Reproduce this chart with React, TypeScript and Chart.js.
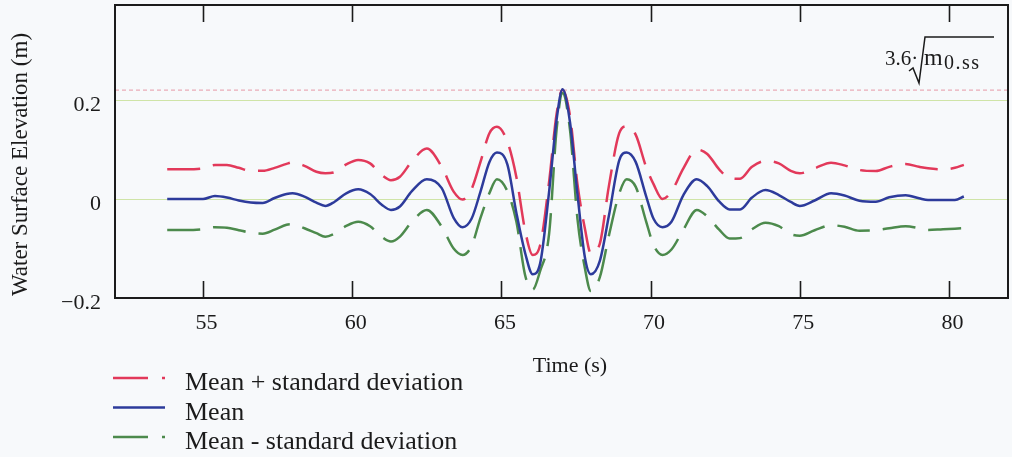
import { useEffect, useRef } from "react";
import { Chart, registerables } from "chart.js";

Chart.register(...registerables);

// Sample times (s)
const time = [
  53.8, 54.4, 55.0, 55.4, 55.8, 56.2, 56.6, 57.0, 57.4, 57.8, 58.0, 58.4, 58.8, 59.1, 59.4, 59.8,
  60.2, 60.6, 61.0, 61.3, 61.6, 62.0, 62.5, 63.0, 63.4, 63.7, 64.0, 64.3, 64.6, 64.85, 65.2, 65.5,
  65.8, 66.05, 66.3, 66.6, 66.85, 67.05, 67.3, 67.55, 67.8, 68.0, 68.3, 68.6, 68.95, 69.2, 69.5,
  69.85, 70.1, 70.4, 70.7, 71.1, 71.55, 71.9, 72.3, 72.65, 73.0, 73.4, 73.85, 74.3, 74.7, 75.0,
  75.5, 76.05, 76.5, 77.0, 77.55, 78.0, 78.55, 79.0, 79.3, 79.8, 80.2, 80.5,
];

// Mean + standard deviation (m)
const upperElev = [
  0.06, 0.06, 0.062, 0.0687, 0.0687, 0.063, 0.057, 0.057, 0.063, 0.071, 0.074, 0.067, 0.055, 0.052, 0.054, 0.07,
  0.079, 0.072, 0.048, 0.038, 0.045, 0.076, 0.102, 0.065, 0.015, -0.001, 0.02, 0.075, 0.133, 0.146, 0.116, 0.045,
  -0.065, -0.113, -0.093, 0.035, 0.172, 0.221, 0.168, 0.03, -0.06, -0.11, -0.09, 0.025, 0.133, 0.147, 0.13,
  0.065, 0.03, 0.0, 0.015, 0.062, 0.1, 0.091, 0.06, 0.042, 0.041, 0.065, 0.077, 0.072, 0.057, 0.052,
  0.062, 0.0735, 0.068, 0.0586, 0.0566, 0.065, 0.0707, 0.065, 0.062, 0.06, 0.063, 0.069,
];

// Mean (m)
const meanElev = [
  0.0, 0.0, 0.0, 0.006, 0.003, -0.003, -0.007, -0.008, 0.002, 0.01, 0.0115, 0.005, -0.0075, -0.014, -0.006, 0.0115,
  0.0195, 0.01, -0.012, -0.022, -0.015, 0.016, 0.04, 0.022, -0.038, -0.057, -0.04, 0.015, 0.075, 0.094, 0.07, -0.027,
  -0.11, -0.152, -0.13, 0.015, 0.16, 0.222, 0.155, 0.01, -0.118, -0.152, -0.125, -0.035, 0.078, 0.094, 0.075,
  0.006, -0.04, -0.057, -0.046, 0.008, 0.04, 0.026, -0.005, -0.021, -0.021, 0.003, 0.018, 0.008, -0.006, -0.014,
  -0.003, 0.0115, 0.007, -0.0035, -0.0055, 0.0035, 0.0075, 0.0015, -0.002, -0.002, -0.002, 0.005,
];

// Mean - standard deviation (m)
const lowerElev = [
  -0.0626, -0.0626, -0.061, -0.057, -0.058, -0.063, -0.068, -0.07, -0.062, -0.052, -0.051, -0.059, -0.069, -0.076, -0.07, -0.0545,
  -0.046, -0.055, -0.077, -0.086, -0.076, -0.046, -0.022, -0.056, -0.1, -0.113, -0.095, -0.038, 0.012, 0.04, 0.016, -0.045,
  -0.155, -0.183, -0.145, -0.07, 0.14, 0.214, 0.14, -0.04, -0.14, -0.186, -0.158, -0.075, 0.011, 0.04, 0.025,
  -0.045, -0.093, -0.113, -0.102, -0.062, -0.022, -0.035, -0.062, -0.08, -0.079, -0.061, -0.048, -0.055, -0.071, -0.074,
  -0.063, -0.053, -0.056, -0.064, -0.063, -0.059, -0.055, -0.059, -0.0626, -0.061, -0.06, -0.059,
];

const seriesLabels = ["Mean + standard deviation", "Mean", "Mean - standard deviation"];
const xTickValues = [55, 60, 65, 70, 75, 80];
const yTickValues = [-0.2, 0, 0.2];
const xRange = [52.05, 81.98];
const yRange = [-0.2, 0.392];
const markerLevel = 0.22; // 3.6·sqrt(m0.ss)
const xTitle = "Time (s)";
const yTitle = "Water Surface Elevation (m)";

const SERIF = '"Liberation Serif", "Times New Roman", serif';
const RED = "#e2395a";
const BLUE = "#2d3b9b";
const GREEN = "#4c8a4c";
const INK = "#1b1b1b";
const DASH = [33, 13];

const decorations = {
  id: "decorations",
  beforeDatasetsDraw(chart: any) {
    const { ctx, chartArea, scales } = chart;
    const y = scales.y.getPixelForValue(markerLevel);
    ctx.save();
    ctx.strokeStyle = "rgba(222, 96, 118, 0.5)";
    ctx.lineWidth = 1.2;
    ctx.setLineDash([4, 3]);
    ctx.beginPath();
    ctx.moveTo(chartArea.left, y);
    ctx.lineTo(chartArea.right, y);
    ctx.stroke();
    ctx.restore();
  },
  afterDraw(chart: any) {
    const { ctx, chartArea, scales } = chart;
    const { left, right, top, bottom } = chartArea;
    ctx.save();

    // plot frame
    ctx.strokeStyle = INK;
    ctx.lineWidth = 2;
    ctx.strokeRect(left, top, right - left, bottom - top);

    // inward tick marks on top and bottom edges
    ctx.lineWidth = 1.6;
    xTickValues.forEach((v) => {
      const x = Math.round(scales.x.getPixelForValue(v)) + 0.5;
      ctx.beginPath();
      ctx.moveTo(x, bottom);
      ctx.lineTo(x, bottom - 17);
      ctx.moveTo(x, top);
      ctx.lineTo(x, top + 17);
      ctx.stroke();
    });

    ctx.fillStyle = INK;

    // axis titles
    ctx.font = `22px ${SERIF}`;
    ctx.textAlign = "center";
    ctx.textBaseline = "alphabetic";
    ctx.fillText(xTitle, 570, 372);

    ctx.save();
    ctx.translate(27, 164.5);
    ctx.rotate(-Math.PI / 2);
    ctx.font = `23px ${SERIF}`;
    ctx.fillText(yTitle, 0, 0);
    ctx.restore();

    // marker annotation: 3.6·√m0.ss
    ctx.textAlign = "left";
    ctx.font = `21px ${SERIF}`;
    ctx.fillText("3.6·", 885, 65);
    ctx.lineWidth = 1.5;
    ctx.beginPath();
    ctx.moveTo(909, 71);
    ctx.lineTo(913, 68);
    ctx.lineTo(919, 83);
    ctx.lineTo(925, 37);
    ctx.lineTo(994, 37);
    ctx.stroke();
    ctx.font = `24px ${SERIF}`;
    ctx.fillText("m", 924, 65);
    ctx.font = `20px ${SERIF}`;
    (ctx as any).letterSpacing = "1.5px";
    ctx.fillText("0.ss", 944, 69);
    (ctx as any).letterSpacing = "0px";

    // legend
    ctx.font = `26px ${SERIF}`;
    chart.data.datasets.forEach((ds: any, r: number) => {
      const base = 390 + r * 29.5;
      ctx.strokeStyle = ds.borderColor;
      ctx.lineWidth = 2.5;
      ctx.setLineDash(ds.borderDash && ds.borderDash.length ? [35, 14] : []);
      ctx.beginPath();
      ctx.moveTo(113, base - 12);
      ctx.lineTo(165, base - 12);
      ctx.stroke();
      ctx.setLineDash([]);
      ctx.fillStyle = INK;
      ctx.fillText(seriesLabels[r], 185, base);
    });

    ctx.restore();
  },
};

export default function App() {
  const canvasRef = useRef<HTMLCanvasElement | null>(null);

  useEffect(() => {
    const canvas = canvasRef.current;
    if (!canvas) return;
    const pts = (ys: number[]) => time.map((t, i) => ({ x: t, y: ys[i] }));
    const line = (label: string, ys: number[], color: string, dashed: boolean, order: number) => ({
      label,
      data: pts(ys),
      borderColor: color,
      backgroundColor: color,
      borderWidth: 2.5,
      borderDash: dashed ? DASH : [],
      pointRadius: 0,
      fill: false,
      cubicInterpolationMode: "monotone" as const,
      order,
    });

    const chart = new Chart(canvas, {
      type: "line",
      data: {
        datasets: [
          line(seriesLabels[0], upperElev, RED, true, 2),
          line(seriesLabels[1], meanElev, BLUE, false, 0),
          line(seriesLabels[2], lowerElev, GREEN, true, 1),
        ],
      },
      options: {
        animation: false,
        responsive: false,
        devicePixelRatio: 1,
        layout: { padding: { top: 5, right: 4, left: 0, bottom: 0 } },
        plugins: { legend: { display: false }, tooltip: { enabled: false } },
        scales: {
          x: {
            type: "linear",
            min: xRange[0],
            max: xRange[1],
            afterBuildTicks: (s: any) => {
              s.ticks = xTickValues.map((v) => ({ value: v }));
            },
            afterFit: (s: any) => {
              s.height = 159;
              s.paddingLeft = 0;
              s.paddingRight = 0;
            },
            grid: { display: false, drawTicks: false },
            border: { display: false },
            ticks: {
              font: { family: SERIF, size: 22 },
              color: INK,
              padding: 12,
              labelOffset: 3.5,
              maxRotation: 0,
              autoSkip: false,
              callback: (v: any) => String(v),
            },
          },
          y: {
            type: "linear",
            min: yRange[0],
            max: yRange[1],
            afterBuildTicks: (s: any) => {
              s.ticks = yTickValues.map((v) => ({ value: v }));
            },
            afterFit: (s: any) => {
              s.width = 115;
              s.paddingTop = 0;
              s.paddingBottom = 0;
            },
            grid: { color: "rgba(196, 222, 146, 0.8)", lineWidth: 1, drawTicks: false },
            border: { display: false },
            ticks: {
              font: { family: SERIF, size: 22 },
              color: INK,
              padding: 14,
              labelOffset: 5,
              autoSkip: false,
              callback: (v: any) => (v === 0 ? "0" : v < 0 ? "\u2212" + String(Math.abs(v)) : String(v)),
            },
          },
        },
      },
      plugins: [decorations],
    });
    return () => chart.destroy();
  }, []);

  return (
    <div
      style={{
        position: "fixed",
        left: 0,
        top: 0,
        width: 1012,
        height: 457,
        background: "#f7f9fb",
      }}
    >
      <canvas ref={canvasRef} width={1012} height={457} style={{ width: 1012, height: 457 }} />
    </div>
  );
}
